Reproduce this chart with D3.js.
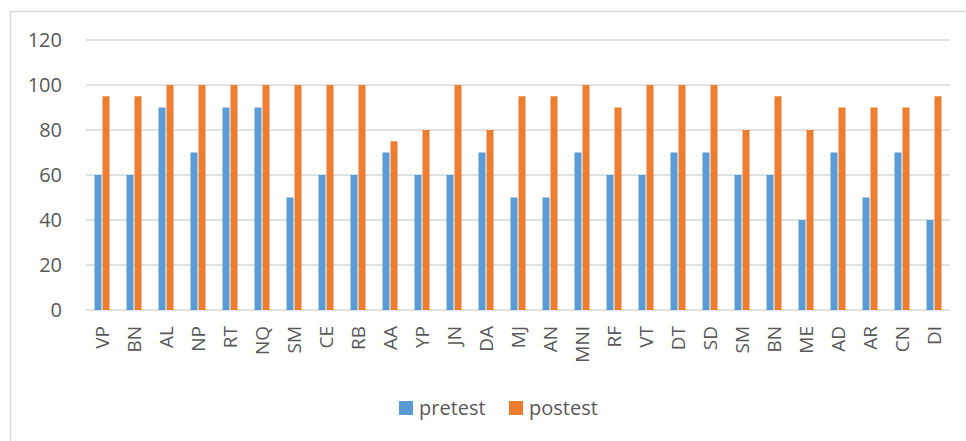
<!DOCTYPE html>
<html>
<head>
<meta charset="utf-8">
<script src="https://cdn.jsdelivr.net/npm/d3@7"></script>
<style>
  body { margin: 0; background: #fff; }
  text { font-family: "Open Sans", "Liberation Sans", sans-serif; fill: #595959; }
</style>
</head>
<body>
<script>
const categories = ['VP','BN','AL','NP','RT','NQ','SM','CE','RB','AA','YP','JN','DA','MJ','AN','MNI','RF','VT','DT','SD','SM','BN','ME','AD','AR','CN','DI'];
const pretest = [60,60,90,70,90,90,50,60,60,70,60,60,70,50,50,70,60,60,70,70,60,60,40,70,50,70,40];
const postest = [95,95,100,100,100,100,100,100,100,75,80,100,80,95,95,100,90,100,100,100,80,95,80,90,90,90,95];
const seriesNames = ['pretest', 'postest'];
const colors = ['#5b9bd5', '#ed7d31'];
const yTicks = [0, 20, 40, 60, 80, 100, 120];

const W = 966, H = 441;
const plot = { left: 86, right: 950, top: 40, bottom: 310 };

const svg = d3.select('body').append('svg')
    .attr('width', W)
    .attr('height', H);

// chart border (only top and left show in the frame)
svg.append('path')
    .attr('d', `M10.5,${H} V11.5 H${W}`)
    .attr('fill', 'none')
    .attr('stroke', '#d9d9d9')
    .attr('stroke-width', 1.5);

const y = d3.scaleLinear().domain([0, 120]).range([plot.bottom, plot.top]);

const x0 = d3.scaleBand()
    .domain(d3.range(categories.length))
    .range([plot.left, plot.right])
    .paddingInner(0.5)
    .paddingOuter(0.25);

const x1 = d3.scaleBand()
    .domain(seriesNames)
    .range([0, x0.bandwidth()]);

// gridlines
svg.append('g')
    .selectAll('line')
    .data(yTicks)
    .join('line')
    .attr('x1', plot.left)
    .attr('x2', plot.right)
    .attr('y1', d => y(d))
    .attr('y2', d => y(d))
    .attr('stroke', '#d9d9d9')
    .attr('stroke-width', 1.5);

// y labels
svg.append('g')
    .selectAll('text')
    .data(yTicks)
    .join('text')
    .attr('x', 62)
    .attr('y', d => y(d))
    .attr('dy', '0.35em')
    .attr('text-anchor', 'end')
    .style('font-size', '20px')
    .text(d => d);

const rows = categories.map((c, i) => ({ i, vals: [pretest[i], postest[i]] }));

const groups = svg.append('g')
    .selectAll('g')
    .data(rows)
    .join('g')
    .attr('transform', d => `translate(${x0(d.i)},0)`);

groups.selectAll('rect')
    .data(d => d.vals.map((v, k) => ({ k, v })))
    .join('rect')
    .attr('x', d => x1(seriesNames[d.k]) + 0.5)
    .attr('width', x1.bandwidth() - 1)
    .attr('y', d => y(d.v))
    .attr('height', d => y(0) - y(d.v))
    .attr('fill', d => colors[d.k]);

// x labels, rotated
svg.append('g')
    .selectAll('text')
    .data(categories)
    .join('text')
    .attr('transform', (d, i) => `translate(${x0(i) + x0.bandwidth() / 2},326) rotate(-90)`)
    .attr('dy', '0.35em')
    .attr('text-anchor', 'end')
    .style('font-size', '19px')
    .text(d => d);

// legend
const legend = svg.append('g');
const legendItems = [
    { name: 'pretest', x: 399 },
    { name: 'postest', x: 509 }
];
legend.selectAll('rect')
    .data(legendItems)
    .join('rect')
    .attr('x', d => d.x)
    .attr('y', 401)
    .attr('width', 14)
    .attr('height', 14)
    .attr('fill', (d, i) => colors[i]);
legend.selectAll('text')
    .data(legendItems)
    .join('text')
    .attr('x', d => d.x + 20)
    .attr('y', 408)
    .attr('dy', '0.35em')
    .style('font-size', '20px')
    .text(d => d.name);
</script>
</body>
</html>
